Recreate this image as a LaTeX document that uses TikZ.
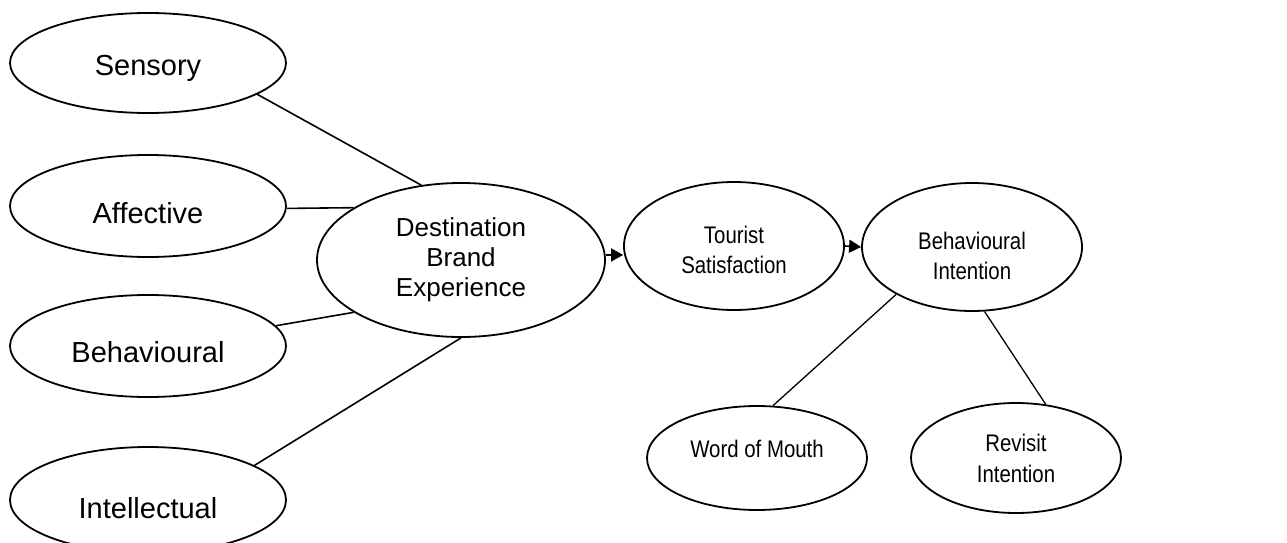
\documentclass[tikz,border=0pt]{standalone}
\usepackage{fontspec}
\setmainfont{Liberation Sans}
\newfontfamily\narrowfont{Liberation Sans}[FakeStretch=0.85]
\usetikzlibrary{shapes.geometric, arrows.meta}

\begin{document}
\begin{tikzpicture}[x=1pt, y=-1pt,
		oval/.style={ellipse, draw, line width=1.8pt, inner sep=0pt, align=center},
		dim/.style={oval, minimum width=276pt, minimum height=102pt, font=\fontsize{29}{34}\selectfont, text height=25pt, text depth=0pt},
		result/.style={oval, minimum width=220pt, minimum height=128pt, font=\narrowfont\fontsize{24}{30}\selectfont},
		outcome/.style={oval, minimum width=220pt, minimum height=104pt, font=\narrowfont\fontsize{24}{31}\selectfont},
		link/.style={line width=1.6pt},
		flow/.style={line width=1.6pt, -{Triangle[length=12pt, width=13pt]}}]
	\useasboundingbox (0,0) rectangle (1287,543);
	
	\node[dim, minimum height=100pt] (sens) at (148,63) {Sensory};
	\node[dim, text height=35pt] (aff) at (148,206) {Affective};
	\node[dim, text height=32pt] (beh) at (148,346) {Behavioural};
	\node[dim, text height=37pt, minimum height=106pt] (int) at (148,500) {Intellectual};
	
	\node[oval, minimum width=288pt, minimum height=154pt, font=\fontsize{26}{30}\selectfont] (dest) at (461,260) {Destination\\Brand\\Experience};
	\node[result] (tour) at (734,246) {\rule{0pt}{25pt}Tourist\\Satisfaction};
	\node[result] (bi) at (972,247) {\rule{0pt}{36pt}Behavioural\\Intention};
	
	\node[outcome, text height=19pt, text depth=20pt] (wom) at (757,458) {Word of Mouth};
	\node[outcome, minimum width=210pt, minimum height=110pt] (rev) at (1016,458) {Revisit\\Intention};
	
	\draw[link] (sens.-16) -- (dest.118);
	\draw[link] (aff.-1) -- (dest.154);
	\draw[link] (beh.9) -- (dest.206);
	\draw[link] (int.18) -- (dest.270);
	
	\draw[flow] (dest.2) -- (dest.2 -| tour.west);
	\draw[flow] (tour.east) -- (bi.west);
	
	\draw[link, line width=1.3pt] (bi.212) -- (wom.73);
	\draw[link, line width=1.3pt] (bi.281) -- (rev.61);
	
\end{tikzpicture}
\end{document}
